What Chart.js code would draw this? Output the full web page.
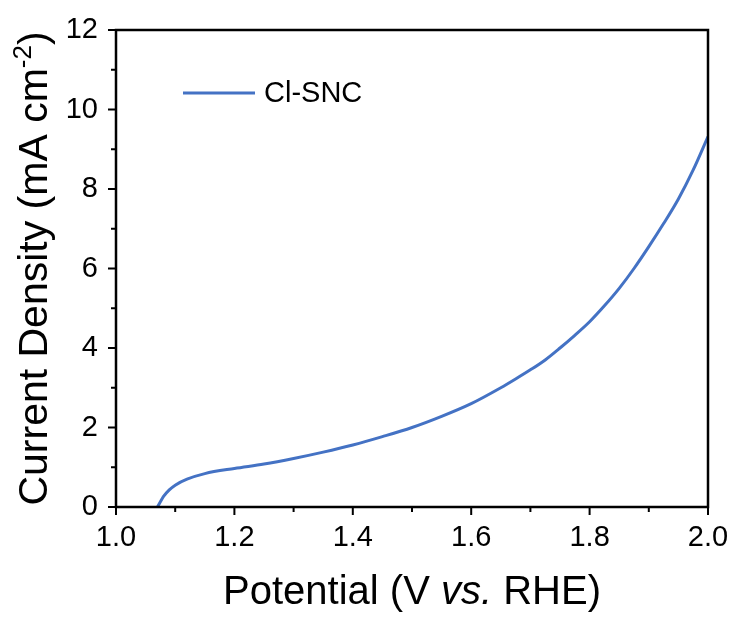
<!DOCTYPE html>
<html>
<head>
<meta charset="utf-8">
<script src="https://cdn.jsdelivr.net/npm/chart.js@4/dist/chart.umd.min.js"></script>
<style>
  html, body { margin: 0; padding: 0; background: #fff; }
  #wrap { width: 736px; height: 619px; }
</style>
</head>
<body>
<div id="wrap"><canvas id="lsv"></canvas></div>
<script>
// LSV curve
const potential = [1.070, 1.075, 1.08, 1.09, 1.10, 1.12, 1.15, 1.20, 1.25, 1.30, 1.35, 1.40,
  1.45, 1.50, 1.55, 1.60, 1.65, 1.675, 1.70, 1.725, 1.75, 1.775, 1.80, 1.825, 1.85, 1.875, 1.90, 1.925, 1.95, 1.975, 2.00];
const current = [0, 0.13, 0.26, 0.43, 0.55, 0.70, 0.84, 0.97, 1.08, 1.22, 1.38, 1.56,
  1.77, 2.00, 2.28, 2.60, 3.00, 3.22, 3.45, 3.70, 4.00, 4.32, 4.66, 5.06, 5.50, 6.00, 6.55, 7.13, 7.75, 8.48, 9.32];
const seriesName = 'Cl-SNC';

const xTicks = [1.0, 1.2, 1.4, 1.6, 1.8, 2.0];
const yTicks = [0, 2, 4, 6, 8, 10, 12];

const FONT = '"Liberation Sans", Arial, sans-serif';

// frame, minor/major ticks, legend and axis titles
const decor = {
  id: 'decor',
  afterDraw(chart) {
    const ctx = chart.ctx;
    const a = chart.chartArea;
    const xs = chart.scales.x, ys = chart.scales.y;
    ctx.save();
    ctx.strokeStyle = '#000';
    ctx.lineWidth = 2.5;
    ctx.strokeRect(a.left, a.top, a.right - a.left, a.bottom - a.top);

    // ticks (outward)
    ctx.lineWidth = 2;
    ctx.beginPath();
    for (let i = 0; i <= 10; i++) {
      const v = 1 + i * 0.1;
      const px = xs.getPixelForValue(v);
      const len = i % 2 === 0 ? 8 : 5;
      ctx.moveTo(px, a.bottom);
      ctx.lineTo(px, a.bottom + len);
    }
    for (let v = 0; v <= 12; v++) {
      const py = ys.getPixelForValue(v);
      const len = v % 2 === 0 ? 8 : 5;
      ctx.moveTo(a.left, py);
      ctx.lineTo(a.left - len, py);
    }
    ctx.stroke();

    // legend inside plot
    const ds = chart.data.datasets[0];
    ctx.strokeStyle = ds.borderColor;
    ctx.lineWidth = 3;
    ctx.beginPath();
    ctx.moveTo(183, 93);
    ctx.lineTo(255, 93);
    ctx.stroke();
    ctx.fillStyle = '#000';
    ctx.font = '29px ' + FONT;
    ctx.textBaseline = 'middle';
    ctx.textAlign = 'left';
    ctx.fillText(ds.label, 264, 94);

    // x title with italic "vs."
    ctx.textBaseline = 'alphabetic';
    const parts = [['Potential (V ', false], ['vs.', true], [' RHE)', false]];
    const xf = it => (it ? 'italic ' : '') + '40px ' + FONT;
    let total = 0;
    parts.forEach(p => { ctx.font = xf(p[1]); total += ctx.measureText(p[0]).width; });
    let x0 = (a.left + a.right) / 2 - total / 2;
    parts.forEach(p => {
      ctx.font = xf(p[1]);
      ctx.fillText(p[0], x0, 604);
      x0 += ctx.measureText(p[0]).width;
    });

    // y title with superscript
    ctx.translate(47, (a.top + a.bottom) / 2);
    ctx.rotate(-Math.PI / 2);
    ctx.font = '41px ' + FONT;
    const t1 = 'Current Density (mA cm', sup = '-2', t2 = ')';
    const w1 = ctx.measureText(t1).width;
    const w3 = ctx.measureText(t2).width;
    ctx.font = '26px ' + FONT;
    const w2 = ctx.measureText(sup).width;
    const s = -(w1 + w2 + w3) / 2;
    ctx.font = '41px ' + FONT;
    ctx.fillText(t1, s, 0);
    ctx.font = '26px ' + FONT;
    ctx.fillText(sup, s + w1, -16);
    ctx.font = '41px ' + FONT;
    ctx.fillText(t2, s + w1 + w2, 0);
    ctx.restore();
  }
};

new Chart(document.getElementById('lsv'), {
  type: 'line',
  data: {
    datasets: [{
      label: seriesName,
      data: potential.map((v, i) => ({ x: v, y: current[i] })),
      borderColor: 'rgb(68, 114, 196)',
      borderWidth: 3,
      pointRadius: 0,
      fill: false,
      cubicInterpolationMode: 'monotone'
    }]
  },
  options: {
    responsive: true,
    maintainAspectRatio: false,
    animation: false,
    layout: { padding: { top: 30, right: 28, left: 0, bottom: 0 } },
    plugins: { legend: { display: false }, tooltip: { enabled: false } },
    scales: {
      x: {
        type: 'linear',
        min: 1.0, max: 2.0,
        afterBuildTicks: s => { s.ticks = xTicks.map(v => ({ value: v })); },
        grid: { display: false, drawTicks: false },
        border: { display: false },
        ticks: {
          color: '#000', padding: 14, maxRotation: 0,
          font: { size: 29, family: FONT },
          callback: v => v.toFixed(1)
        },
        afterFit: s => { s.height = 112; s.paddingLeft = 0; s.paddingRight = 0; }
      },
      y: {
        min: 0, max: 12,
        afterBuildTicks: s => { s.ticks = yTicks.map(v => ({ value: v })); },
        grid: { display: false, drawTicks: false },
        border: { display: false },
        ticks: {
          color: '#000', padding: 18,
          font: { size: 29, family: FONT }
        },
        afterFit: s => { s.width = 116; s.paddingTop = 0; s.paddingBottom = 0; }
      }
    }
  },
  plugins: [decor]
});
</script>
</body>
</html>
